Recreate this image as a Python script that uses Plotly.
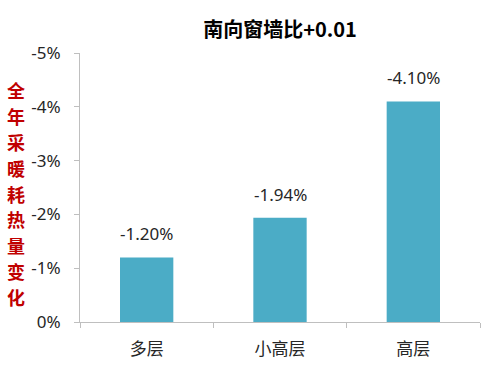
import plotly.graph_objects as go

categories = ["多层", "小高层", "高层"]
values = [-0.0120, -0.0194, -0.0410]
value_labels = ["-1.20%", "-1.94%", "-4.10%"]
tick_vals = [0, -0.01, -0.02, -0.03, -0.04, -0.05]
tick_text = ["0%", "-1%", "-2%", "-3%", "-4%", "-5%"]
title_text = "南向窗墙比+0.01"
ytitle_chars = list("全年采暖耗热量变化")

fig = go.Figure()
fig.add_trace(go.Bar(
    x=categories, y=values,
    marker=dict(color="#4BACC6", line=dict(width=0)),
    width=0.4,
))

annotations = []
for c, v, t in zip(categories, values, value_labels):
    annotations.append(dict(
        text=t, x=c, y=v, xref="x", yref="y", showarrow=False,
        yanchor="bottom", yshift=10,
        font=dict(size=17, color="#262626", family="Noto Sans, DejaVu Sans"),
    ))

pw, ph = 500 - 80 - 20, 365 - 53 - 43
top, step = 90, 25.9
for i, ch in enumerate(ytitle_chars):
    px, py = 16, 365 - (top + i * step)
    annotations.append(dict(
        text="<b>%s</b>" % ch, x=(px - 80) / pw, y=(py - 43) / ph,
        xref="paper", yref="paper", showarrow=False,
        font=dict(size=18, color="#C00000", family="Noto Sans CJK SC"),
        xanchor="center", yanchor="middle",
    ))

fig.update_layout(
    width=500, height=365,
    margin=dict(l=80, r=20, t=53, b=43, autoexpand=False),
    paper_bgcolor="white", plot_bgcolor="white",
    showlegend=False,
    title=dict(text="<b>%s</b>" % title_text, x=280 / 500, xanchor="center",
               y=1 - 30 / 365, yanchor="middle",
               font=dict(size=20, color="#000000", family="Noto Sans CJK SC")),
    annotations=annotations,
    xaxis=dict(showline=True, linecolor="#BFBFBF", linewidth=1,
               ticks="outside", tickson="boundaries", ticklen=5, tickcolor="#BFBFBF",
               showgrid=False, ticklabelstandoff=12, automargin=False,
               tickfont=dict(size=17, color="#262626", family="Noto Sans CJK SC")),
    yaxis=dict(range=[0, -0.05], tickvals=tick_vals, ticktext=tick_text,
               showline=True, linecolor="#BFBFBF", linewidth=1,
               ticks="outside", ticklen=5, tickcolor="#BFBFBF", automargin=False,
               showgrid=False, zeroline=False, ticklabelstandoff=10,
               tickfont=dict(size=17, color="#262626", family="Noto Sans, DejaVu Sans")),
)

fig.write_html("out.html")
